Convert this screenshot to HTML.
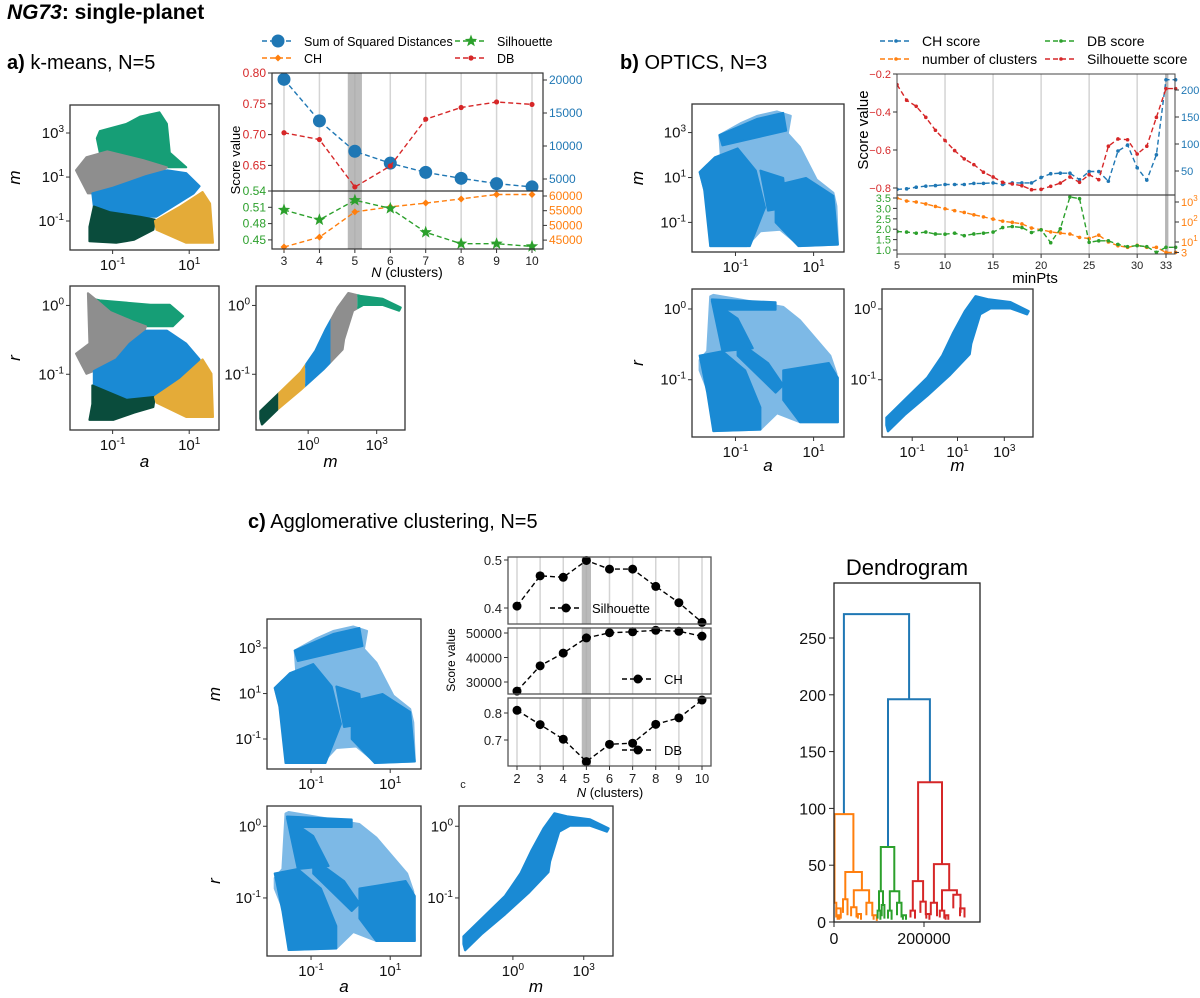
<!DOCTYPE html>
<html><head><meta charset="utf-8"><title>NG73 single-planet clustering</title>
<style>
html,body{margin:0;padding:0;background:#fff;}
svg{display:block;font-family:"Liberation Sans",Arial,sans-serif;}
</style></head>
<body>
<svg id="fig" xmlns="http://www.w3.org/2000/svg" width="1200" height="998" viewBox="0 0 1200 998">
<text x="7" y="19" font-size="21" font-weight="bold"><tspan font-style="italic">NG73</tspan>: single-planet</text>
<text x="7" y="69" font-size="20"><tspan font-weight="bold">a)</tspan> k-means, N=5</text>
<text x="620" y="69" font-size="20"><tspan font-weight="bold">b)</tspan> OPTICS, N=3</text>
<text x="248" y="528" font-size="20"><tspan font-weight="bold">c)</tspan> Agglomerative clustering, N=5</text>
</svg>
<script>
// ---------- k-means score data ----------
const kmN = [3,4,5,6,7,8,9,10];
const kmSSD = [20100,13800,9200,7400,6000,5100,4300,3800];
const kmDB = [0.703,0.692,0.615,0.649,0.725,0.744,0.753,0.749];
const kmSil = [0.505,0.487,0.523,0.508,0.464,0.443,0.443,0.438];
const kmCH = [42650,46000,54600,56300,57600,59000,60500,60500];
const kmTopLeftTicks = [0.80,0.75,0.70,0.65];
const kmTopRightTicks = [20000,15000,10000,5000];
const kmBotLeftTicks = [0.54,0.51,0.48,0.45];
const kmBotRightTicks = [60000,55000,50000,45000];
// ---------- OPTICS score data ----------
const opMin = [5,6,7,8,9,10,11,12,13,14,15,16,17,18,19,20,21,22,23,24,25,26,27,28,29,30,31,32,33,34];
const opSil = [-0.256,-0.338,-0.37,-0.428,-0.496,-0.55,-0.603,-0.647,-0.677,-0.717,-0.742,-0.77,-0.779,-0.788,-0.809,-0.807,-0.791,-0.774,-0.742,-0.77,-0.73,-0.756,-0.58,-0.542,-0.546,-0.621,-0.58,-0.428,-0.277,-0.277];
const opCH = [16,17,20,22,23,25,25,25,27,27,28,25,28,28,28,38,45,46,46,34,49,49,31,87,98,56,33,80,219,219];
const opDB = [1.89,1.86,1.81,1.86,1.77,1.76,1.81,1.69,1.77,1.81,1.86,2.08,2.13,2.08,1.84,1.97,1.35,2.02,3.55,3.47,1.37,1.44,1.44,1.27,1.16,1.21,1.16,0.89,1.13,1.13];
const opNclu = [1580,1120,1000,800,600,460,370,300,230,180,140,110,96,80,50,41,32,28,25,17,15,22,10,6.5,5.4,6.8,5.4,5.4,3,3];
const opXTicks = [5,10,15,20,25,30,33];
const opTopLeftTicks = [-0.2,-0.4,-0.6,-0.8];
const opTopRightTicks = [200,150,100,50];
const opBotLeftTicks = [3.5,3.0,2.5,2.0,1.5,1.0];
const opBotRightTicks = [1000,100,10,3];
// ---------- Agglomerative score data ----------
const agN = [2,3,4,5,6,7,8,9,10];
const agSil = [0.404,0.467,0.464,0.499,0.481,0.481,0.445,0.411,0.37];
const agCH = [26300,36600,41800,48000,50100,50500,51100,50700,48700];
const agDB = [0.81,0.757,0.703,0.62,0.684,0.688,0.758,0.782,0.848];
const agSilTicks = [0.5,0.4];
const agCHTicks = [50000,40000,30000];
const agDBTicks = [0.8,0.7];
// ---------- Dendrogram links: [xLeft, xRight, height, leftChildH, rightChildH, colorIndex] ----------
const dendLinks = [
 [22000,167000,271,95,196,0],[120000,213000,196,66,123,0],
 [1000,43000,95,17,44,1],[25000,62000,44,20,28,1],[44000,78000,28,13,17,1],
 [20000,30000,20,8,6,1],[5000,15000,12,4,3,1],[38000,50000,13,5,4,1],[72000,85000,17,6,5,1],
 [-3000,5000,17,6,4,1],[8000,12000,6,2,2,1],[53000,60000,7,3,2,1],[88000,95000,6,2,1,1],
 [104000,134000,66,27,27,2],[100000,109000,27,10,15,2],[124000,145000,27,10,17,2],
 [97000,103000,10,3,2,2],[106000,112000,15,5,3,2],[120000,128000,10,3,2,2],[140000,150000,17,6,4,2],[153000,160000,6,2,2,2],
 [187000,240000,123,36,51,3],[175000,198000,36,10,18,3],[222000,256000,51,17,28,3],[240000,273000,28,10,24,3],
 [170000,180000,10,4,3,3],[192000,204000,18,8,6,3],[215000,229000,17,6,5,3],[235000,245000,10,4,3,3],
 [265000,281000,24,12,8,3],[280000,290000,12,5,4,3],[205000,212000,7,3,2,3],[248000,254000,6,2,2,3]
];
const dendYTicks = [0,50,100,150,200,250];
const dendXTicks = [0,200000];

const NS='http://www.w3.org/2000/svg';
const svg=document.getElementById('fig');
function add(p,tag,at,txt){const e=document.createElementNS(NS,tag);for(const k in at)e.setAttribute(k,at[k]);if(txt!==undefined)e.textContent=txt;p.appendChild(e);return e;}
function G(){return add(svg,'g',{});}
const C={blue:'#1f77b4',orange:'#ff7f0e',green:'#2ca02c',red:'#d62728'};
const SC={g:'#169e76',gray:'#8e8e8e',b:'#1a8ad4',dg:'#0a4c3c',y:'#e4ab38'};

// ---------- scatter shapes (normalized) ----------
const kmAMshapes=[
 [SC.g,[[.18,.23],[.20,.18],[.38,.13],[.47,.08],[.60,.05],[.65,.13],[.67,.33],[.78,.43],[.58,.43],[.47,.38],[.31,.33],[.20,.33]]],
 [SC.gray,[[.04,.45],[.11,.36],[.25,.32],[.49,.38],[.65,.43],[.60,.47],[.47,.52],[.29,.57],[.16,.61],[.12,.61],[.06,.49]]],
 [SC.b,[[.15,.61],[.29,.57],[.51,.49],[.65,.45],[.78,.47],[.87,.56],[.83,.61],[.58,.77],[.47,.77],[.27,.74],[.16,.70]]],
 [SC.dg,[[.16,.70],[.27,.74],[.47,.77],[.57,.79],[.56,.86],[.43,.93],[.31,.95],[.13,.94],[.13,.84]]],
 [SC.y,[[.57,.80],[.74,.70],[.89,.60],[.94,.68],[.96,.95],[.78,.95],[.58,.86]]]];
const kmARshapes=[
 [SC.g,[[.16,.09],[.20,.10],[.54,.13],[.67,.13],[.76,.21],[.69,.28],[.51,.28],[.43,.24],[.27,.17]]],
 [SC.gray,[[.04,.47],[.13,.40],[.12,.05],[.18,.10],[.27,.18],[.43,.25],[.51,.28],[.47,.40],[.38,.47],[.25,.54],[.16,.59],[.11,.61],[.06,.51]]],
 [SC.b,[[.16,.59],[.31,.51],[.40,.40],[.51,.31],[.65,.31],[.78,.40],[.87,.51],[.78,.65],[.58,.77],[.38,.79],[.16,.69]]],
 [SC.dg,[[.15,.69],[.38,.79],[.57,.77],[.56,.84],[.43,.88],[.29,.93],[.13,.93],[.15,.82]]],
 [SC.y,[[.57,.77],[.74,.65],[.89,.51],[.95,.61],[.96,.91],[.78,.91],[.58,.81]]]];
const band=[[.03,.87],[.15,.75],[.30,.60],[.40,.45],[.47,.30],[.55,.15],[.62,.05],[.70,.07],[.85,.09],[.97,.15],[.96,.17],[.85,.13],[.72,.13],[.65,.17],[.59,.37],[.58,.44],[.45,.58],[.30,.72],[.15,.85],[.04,.96],[.03,.92]];
const amOuter=[[.05,.46],[.10,.41],[.19,.36],[.18,.21],[.32,.13],[.43,.08],[.56,.05],[.65,.08],[.63,.20],[.71,.29],[.82,.51],[.93,.60],[.95,.69],[.96,.95],[.71,.96],[.58,.85],[.45,.86],[.36,.96],[.12,.96],[.12,.78],[.08,.58]];
const amDense=[
 [[.05,.46],[.15,.36],[.30,.30],[.42,.45],[.48,.70],[.38,.96],[.12,.96],[.08,.58]],
 [[.18,.21],[.43,.10],[.60,.06],[.62,.18],[.45,.22],[.20,.28]],
 [[.55,.55],[.75,.50],[.93,.62],[.96,.95],[.70,.96],[.55,.80]],
 [[.45,.45],[.60,.50],[.62,.70],[.50,.72]]];
const arOuter=[[.05,.48],[.10,.42],[.12,.05],[.14,.04],[.60,.12],[.71,.21],[.91,.45],[.95,.57],[.96,.90],[.71,.90],[.56,.84],[.45,.95],[.14,.96],[.12,.73],[.05,.55]];
const arDense=[
 [[.13,.07],[.55,.09],[.55,.14],[.20,.14]],
 [[.05,.45],[.20,.42],[.35,.55],[.45,.80],[.45,.95],[.14,.96],[.10,.70]],
 [[.13,.08],[.30,.20],[.40,.40],[.20,.42]],
 [[.30,.35],[.50,.50],[.60,.65],[.55,.70],[.30,.45]],
 [[.60,.55],[.90,.50],[.96,.60],[.96,.90],[.71,.90],[.60,.75]]];

function mp(b,pts){return pts.map(p=>(b.x+p[0]*b.w).toFixed(1)+','+(b.y+p[1]*b.h).toFixed(1)).join(' ');}
function frame(g,b){const r=add(g,'rect',{x:b.x,y:b.y,width:b.w,height:b.h,fill:'none',stroke:'#333','stroke-width':1.3});

}
function logLab(g,x,y,exp,anchor){const t=add(g,'text',{x:x,y:y,'font-size':15,'text-anchor':anchor,fill:'#111'});


add(t,'tspan',{},'10');add(t,'tspan',{dy:-6,'font-size':10},exp);}
function axesTicks(g,b,xt,yt,xlab,ylab,xlabY,ylabX){
 xt.forEach(t=>{const X=b.x+t[0]*b.w;add(g,'line',{x1:X,x2:X,y1:b.y+b.h,y2:b.y+b.h+4,stroke:'#333'});logLab(g,X,b.y+b.h+20,t[1],'middle');});
 yt.forEach(t=>{const Y=b.y+t[0]*b.h;add(g,'line',{x1:b.x-4,x2:b.x,y1:Y,y2:Y,stroke:'#333'});logLab(g,b.x-6,Y+5,t[1],'end');});
 if(xlab){const t=add(g,'text',{x:b.x+b.w/2,y:xlabY,'font-size':17,'font-style':'italic','text-anchor':'middle'},xlab);
 
 }
 if(ylab){const cy=b.y+b.h/2;const t=add(g,'text',{x:ylabX,y:cy,'font-size':17,'font-style':'italic','text-anchor':'middle',transform:'rotate(-90 '+ylabX+' '+cy+')'},ylab);
 
 }
}
const AMX=[[.286,'-1'],[.80,'1']],AMY=[[.193,'3'],[.497,'1'],[.80,'-1']],ARY=[[.135,'0'],[.613,'-1']];
let clipId=0;
function clusterScatter(name,b,shapes){const g=G();


shapes.forEach(s=>{const p=add(g,'polygon',{points:mp(b,s[1]),fill:s[0],stroke:s[0],'stroke-width':2,'stroke-linejoin':'round'});

});
frame(g,b);return g;}
function blueScatter(name,b,outer,dense){const g=G();


const o=add(g,'polygon',{points:mp(b,outer),fill:'#7db9e6',stroke:'#7db9e6','stroke-width':2,'stroke-linejoin':'round'});


dense.forEach(d=>{const p=add(g,'polygon',{points:mp(b,d),fill:SC.b,stroke:SC.b,'stroke-width':2,'stroke-linejoin':'round'});

});
frame(g,b);return g;}
function bandScatter(name,b,segs){const g=G();


const defs=add(g,'defs',{});
segs.forEach(s=>{const id='cl'+(clipId++);const cp=add(defs,'clipPath',{id:id});add(cp,'rect',{x:b.x+s[1]*b.w,y:b.y,width:(s[2]-s[1])*b.w,height:b.h});
const p=add(g,'polygon',{points:mp(b,band),fill:s[0],stroke:s[0],'stroke-width':2.5,'stroke-linejoin':'round','clip-path':'url(#'+id+')'});

});
frame(g,b);return g;}

// k-means scatters
let b={x:70,y:105,w:149,h:145};let g=clusterScatter('kmeans-scatter-a-m',b,kmAMshapes);axesTicks(g,b,AMX,AMY,null,'m',0,20);
b={x:70,y:286,w:149,h:144};g=clusterScatter('kmeans-scatter-a-r',b,kmARshapes);axesTicks(g,b,AMX,ARY,'a','r',467,20);
b={x:256,y:286,w:149,h:144};g=bandScatter('kmeans-scatter-m-r',b,[[SC.dg,0,.15],[SC.y,.15,.33],[SC.b,.33,.5],[SC.gray,.5,.68],[SC.g,.68,1]]);axesTicks(g,b,[[.35,'0'],[.81,'3']],ARY,'m',null,467,0);
// OPTICS scatters
b={x:692,y:104,w:152,h:148};g=blueScatter('optics-scatter-a-m',b,amOuter,amDense);axesTicks(g,b,AMX,AMY,null,'m',0,643);
b={x:692,y:289,w:152,h:148};g=blueScatter('optics-scatter-a-r',b,arOuter,arDense);axesTicks(g,b,AMX,ARY,'a','r',471,643);
b={x:882,y:289,w:151,h:148};g=bandScatter('optics-scatter-m-r',b,[[SC.b,0,1]]);axesTicks(g,b,[[.2,'-1'],[.5,'1'],[.81,'3']],ARY,'m',null,471,0);
// Agglomerative scatters
b={x:267,y:619,w:154,h:150};g=blueScatter('agglo-scatter-a-m',b,amOuter,amDense);axesTicks(g,b,AMX,AMY,null,'m',0,220);
b={x:267,y:806,w:154,h:150};g=blueScatter('agglo-scatter-a-r',b,arOuter,arDense);axesTicks(g,b,AMX,ARY,'a','r',992,220);
b={x:459,y:806,w:154,h:150};g=bandScatter('agglo-scatter-m-r',b,[[SC.b,0,1]]);axesTicks(g,b,[[.35,'0'],[.81,'3']],ARY,'m',null,992,0);

// ---------- generic helpers for score charts ----------
function lin(d0,d1,r0,r1){return v=>r0+(v-d0)/(d1-d0)*(r1-r0);}
function tickLabel(g,x,y,s,color,anchor,size){const t=add(g,'text',{x:x,y:y,'font-size':size,fill:color,'text-anchor':anchor},s);

return t;}
function series(g,xs,ys,X,Y,color,name,marker,ms){
 const pts=xs.map((x,i)=>X(x).toFixed(1)+','+Y(ys[i]).toFixed(1)).join(' ');
 const l=add(g,'polyline',{points:pts,fill:'none',stroke:color,'stroke-width':1.4,'stroke-dasharray':'5,3'});
 
 
 xs.forEach((x,i)=>{const m=drawMarker(g,marker,X(x),Y(ys[i]),ms,color);
 
 });
}
function drawMarker(g,type,x,y,s,color){
 if(type==='circle')return add(g,'circle',{cx:x,cy:y,r:s,fill:color});
 if(type==='diamond')return add(g,'polygon',{points:`${x},${y-s} ${x+s},${y} ${x},${y+s} ${x-s},${y}`,fill:color});
 if(type==='star'){let p=[];for(let k=0;k<10;k++){const a=-Math.PI/2+k*Math.PI/5,r=k%2?s*0.42:s;p.push((x+r*Math.cos(a)).toFixed(1)+','+(y+r*Math.sin(a)).toFixed(1));}return add(g,'polygon',{points:p.join(' '),fill:color});}
}
function legendItem(g,x,y,color,marker,ms,label,size){
 const l=add(g,'line',{x1:x,x2:x+32,y1:y,y2:y,stroke:color,'stroke-width':1.4,'stroke-dasharray':'5,3'});
 
 
 drawMarker(g,marker,x+16,y,ms,color);
 const t=add(g,'text',{x:x+42,y:y+5,'font-size':size},label);
 
 
}
function rotLabel(g,x,y,s,size){const t=add(g,'text',{x:x,y:y,'font-size':size,'text-anchor':'middle',transform:`rotate(-90 ${x} ${y})`},s);

}

// ---------- k-means score chart ----------
(function(){
 const g=G();
 
 
 const L=272,R=543,T=73,M=191,B=249;
 const X=lin(3,10,284,532);
 const yTL=lin(0.80,0.75,73,103.8), yTR=lin(20000,15000,80,113), yBL=lin(0.54,0.51,191,207.3), yBR=lin(60000,55000,196,210.7);
 kmN.forEach(n=>{const gl=add(g,'line',{x1:X(n),x2:X(n),y1:T,y2:B,stroke:'#d4d4d4','stroke-width':1.5});
 
 
 add(g,'line',{x1:X(n),x2:X(n),y1:B,y2:B+4,stroke:'#333'});
 tickLabel(g,X(n),B+16,String(n),'#222','middle',12);});
 const band=add(g,'rect',{x:X(4.8),y:T,width:X(5.2)-X(4.8),height:B-T,fill:'#a9a9a9','fill-opacity':0.8});
 
 
 const cp=add(g,'clipPath',{id:'kmTop'});add(cp,'rect',{x:L-8,y:T-8,width:R-L+16,height:M-T+8});
 const cb=add(g,'clipPath',{id:'kmBot'});add(cb,'rect',{x:L-8,y:M,width:R-L+16,height:B-M+8});
 const top=add(g,'g',{'clip-path':'url(#kmTop)'}),bot=add(g,'g',{'clip-path':'url(#kmBot)'});
 series(top,kmN,kmSSD,X,yTR,C.blue,'ssd','circle',6.5);
 series(top,kmN,kmDB,X,yTL,C.red,'db','circle',2.6);
 series(bot,kmN,kmCH,X,yBR,C.orange,'ch','diamond',3.5);
 series(bot,kmN,kmSil,X,yBL,C.green,'silhouette','star',6.5);
 const f1=add(g,'rect',{x:L,y:T,width:R-L,height:B-T,fill:'none',stroke:'#333','stroke-width':1.2});
 
 
 add(g,'line',{x1:L,x2:R,y1:M,y2:M,stroke:'#333','stroke-width':1.2});
 kmTopLeftTicks.forEach(v=>{add(g,'line',{x1:L-4,x2:L,y1:yTL(v),y2:yTL(v),stroke:'#333'});tickLabel(g,L-6,yTL(v)+4,v.toFixed(2),C.red,'end',12);});
 kmTopRightTicks.forEach(v=>{add(g,'line',{x1:R,x2:R+4,y1:yTR(v),y2:yTR(v),stroke:'#333'});tickLabel(g,R+6,yTR(v)+4,String(v),C.blue,'start',12);});
 kmBotLeftTicks.forEach(v=>{add(g,'line',{x1:L-4,x2:L,y1:yBL(v),y2:yBL(v),stroke:'#333'});tickLabel(g,L-6,yBL(v)+4,v.toFixed(2),C.green,'end',12);});
 kmBotRightTicks.forEach(v=>{add(g,'line',{x1:R,x2:R+4,y1:yBR(v),y2:yBR(v),stroke:'#333'});tickLabel(g,R+6,yBR(v)+4,String(v),C.orange,'start',12);});
 rotLabel(g,240,160,'Score value',13);
 const xl=add(g,'text',{x:407,y:277,'font-size':14,'text-anchor':'middle'});
 
 
 add(xl,'tspan',{'font-style':'italic'},'N');add(xl,'tspan',{},' (clusters)');
 legendItem(g,262,41,C.blue,'circle',6.5,'Sum of Squared Distances',12.5);
 legendItem(g,455,41,C.green,'star',6.5,'Silhouette',12.5);
 legendItem(g,262,58,C.orange,'diamond',3.5,'CH',12.5);
 legendItem(g,455,58,C.red,'circle',2.6,'DB',12.5);
})();

// ---------- OPTICS score chart ----------
(function(){
 const g=G();
 
 
 const L=897,R=1175,T=74,M=195,B=254;
 const X=lin(5,33,897,1166);
 const yTL=lin(-0.2,-0.4,74,112), yTR=lin(200,150,90,117), yBL=lin(3.5,3.0,198,208.4), yBR=v=>202+(3-Math.log10(v))*20;
 [10,15,20,25,30].forEach(n=>{const gl=add(g,'line',{x1:X(n),x2:X(n),y1:T,y2:B,stroke:'#d4d4d4','stroke-width':1.5});
 
 });
 const band=add(g,'rect',{x:X(32.9),y:T,width:X(33.25)-X(32.9),height:B-T,fill:'#a9a9a9','fill-opacity':0.85});
 
 
 opXTicks.forEach(n=>{add(g,'line',{x1:X(n),x2:X(n),y1:B,y2:B+4,stroke:'#333'});tickLabel(g,X(n),B+15,String(n),'#222','middle',11);});
 const cp=add(g,'clipPath',{id:'opTop'});add(cp,'rect',{x:L,y:T-5,width:R-L+3,height:M-T+5});
 const cb=add(g,'clipPath',{id:'opBot'});add(cb,'rect',{x:L,y:M,width:R-L+3,height:B-M+5});
 const top=add(g,'g',{'clip-path':'url(#opTop)'}),bot=add(g,'g',{'clip-path':'url(#opBot)'});
 series(top,opMin,opCH,X,yTR,C.blue,'ch-score','circle',1.8);
 series(top,opMin,opSil,X,yTL,C.red,'silhouette-score','circle',1.8);
 series(bot,opMin,opNclu,X,yBR,C.orange,'number-of-clusters','circle',1.8);
 series(bot,opMin,opDB,X,yBL,C.green,'db-score','circle',1.8);
 const f1=add(g,'rect',{x:L,y:T,width:R-L,height:B-T,fill:'none',stroke:'#444','stroke-width':1});
 
 
 add(g,'line',{x1:L,x2:R,y1:M,y2:M,stroke:'#444','stroke-width':1.2});
 opTopLeftTicks.forEach(v=>{add(g,'line',{x1:L-4,x2:L,y1:yTL(v),y2:yTL(v),stroke:'#333'});tickLabel(g,L-6,yTL(v)+4,'\u2212'+Math.abs(v).toFixed(1),C.red,'end',11);});
 opTopRightTicks.forEach(v=>{add(g,'line',{x1:R,x2:R+4,y1:yTR(v),y2:yTR(v),stroke:'#333'});tickLabel(g,R+6,yTR(v)+4,String(v),C.blue,'start',11);});
 opBotLeftTicks.forEach(v=>{add(g,'line',{x1:L-4,x2:L,y1:yBL(v),y2:yBL(v),stroke:'#333'});tickLabel(g,L-6,yBL(v)+4,v.toFixed(1),C.green,'end',11);});
 opBotRightTicks.forEach(v=>{add(g,'line',{x1:R,x2:R+4,y1:yBR(v),y2:yBR(v),stroke:'#333'});
 if(v===3){tickLabel(g,R+6,yBR(v)+4,'3',C.orange,'start',11);}
 else{const t=tickLabel(g,R+6,yBR(v)+4,'',C.orange,'start',11);add(t,'tspan',{},'10');add(t,'tspan',{dy:-5,'font-size':8},String(Math.round(Math.log10(v))));}});
 rotLabel(g,868,130,'Score value',15);
 const xl=add(g,'text',{x:1035,y:283,'font-size':15,'text-anchor':'middle'},'minPts');
 
 
 legendItem(g,880,41,C.blue,'circle',1.8,'CH score',14);
 legendItem(g,1045,41,C.green,'circle',1.8,'DB score',14);
 legendItem(g,880,59,C.orange,'circle',1.8,'number of clusters',14);
 legendItem(g,1045,59,C.red,'circle',1.8,'Silhouette score',14);
})();

// ---------- Agglomerative score chart ----------
(function(){
 const g=G();
 
 
 const L=508,R=711;
 const X=lin(2,10,517,702);
 const panels=[
  {T:557,B:624,y:lin(0.5,0.4,560,608),vals:agSil,ticks:agSilTicks,fmt:v=>v.toFixed(1),name:'silhouette',lab:'Silhouette',lx:580,ly:608},
  {T:628,B:694,y:lin(50000,30000,633,682),vals:agCH,ticks:agCHTicks,fmt:v=>String(v),name:'ch',lab:'CH',lx:652,ly:679},
  {T:698,B:766,y:lin(0.8,0.7,713,740),vals:agDB,ticks:agDBTicks,fmt:v=>v.toFixed(1),name:'db',lab:'DB',lx:652,ly:750}];
 panels.forEach(p=>{
  const pg=add(g,'g',{});
  
  
  agN.forEach(n=>{const gl=add(pg,'line',{x1:X(n),x2:X(n),y1:p.T,y2:p.B,stroke:'#d4d4d4','stroke-width':1.5});
  
  });
  const bd=add(pg,'rect',{x:X(4.8),y:p.T,width:X(5.2)-X(4.8),height:p.B-p.T,fill:'#a9a9a9','fill-opacity':0.8});
  
  
  series(pg,agN,p.vals,X,p.y,'#000',p.name,'circle',4.5);
  const f=add(pg,'rect',{x:L,y:p.T,width:R-L,height:p.B-p.T,fill:'none',stroke:'#555','stroke-width':1.3});
  
  
  p.ticks.forEach(v=>{add(pg,'line',{x1:L-4,x2:L,y1:p.y(v),y2:p.y(v),stroke:'#333'});tickLabel(pg,L-6,p.y(v)+5,p.fmt(v),'#222','end',13);});
  legendItem(pg,p.lx-30,p.ly,'#000','circle',4.5,p.lab,13);
 });
 agN.forEach(n=>{add(g,'line',{x1:X(n),x2:X(n),y1:766,y2:770,stroke:'#333'});tickLabel(g,X(n),783,String(n),'#222','middle',13);});
 rotLabel(g,455,660,'Score value',12);
 tickLabel(g,463,788,'c','#222','middle',11);
 const xl=add(g,'text',{x:610,y:797,'font-size':13,'text-anchor':'middle'});
 
 
 add(xl,'tspan',{'font-style':'italic'},'N');add(xl,'tspan',{},' (clusters)');
})();

// ---------- Dendrogram ----------
(function(){
 const g=G();
 
 
 const L=834,R=980,T=583,B=922;
 const X=lin(0,200000,834,924), Y=lin(0,50,922,865.2);
 const cols=[C.blue,C.orange,C.green,C.red];
 const cp=add(g,'clipPath',{id:'dendClip'});add(cp,'rect',{x:L,y:T,width:R-L,height:B-T});
 const inner=add(g,'g',{'clip-path':'url(#dendClip)'});
 dendLinks.forEach(k=>{const pts=[[X(k[0]),Y(k[3])],[X(k[0]),Y(k[2])],[X(k[1]),Y(k[2])],[X(k[1]),Y(k[4])]].map(p=>p[0].toFixed(1)+','+p[1].toFixed(1)).join(' ');
 const l=add(inner,'polyline',{points:pts,fill:'none',stroke:cols[k[5]],'stroke-width':2});
 
 });
 const f=add(g,'rect',{x:L,y:T,width:R-L,height:B-T,fill:'none',stroke:'#222','stroke-width':1.3});
 
 
 dendYTicks.forEach(v=>{add(g,'line',{x1:L-5,x2:L,y1:Y(v),y2:Y(v),stroke:'#222'});tickLabel(g,L-8,Y(v)+6,String(v),'#111','end',16);});
 dendXTicks.forEach(v=>{add(g,'line',{x1:X(v),x2:X(v),y1:B,y2:B+5,stroke:'#222'});tickLabel(g,X(v),B+22,String(v),'#111','middle',16);});
 const t=add(g,'text',{x:907,y:575,'font-size':22,'text-anchor':'middle'},'Dendrogram');
 
 
})();
</script>
</body></html>
